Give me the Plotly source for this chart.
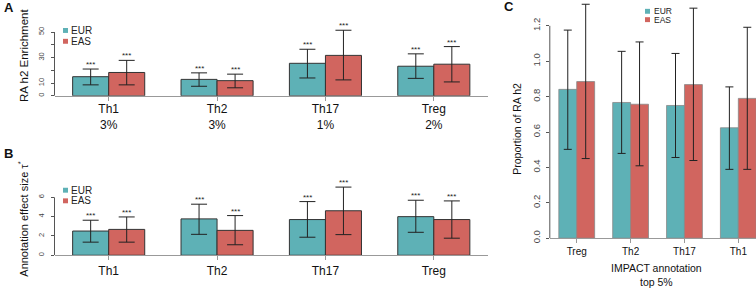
import numpy as np
import plotly.graph_objects as go

# ---------------- data ----------------
cats_AB = ["Th1", "Th2", "Th17", "Treg"]
pct_A = ["3%", "3%", "1%", "2%"]

A_eur = [15.0, 12.9, 25.5, 23.2]
A_eur_lo = [8.6, 7.5, 14.0, 13.7]
A_eur_hi = [21.0, 18.0, 36.5, 32.9]
A_eas = [18.3, 11.9, 31.7, 24.8]
A_eas_lo = [8.6, 6.3, 12.5, 10.9]
A_eas_hi = [27.8, 17.0, 51.4, 38.6]
A_sig_eur = ["***", "***", "***", "***"]
A_sig_eas = ["***", "***", "***", "***"]

B_eur = [2.51, 3.77, 3.70, 4.00]
B_eur_lo = [1.36, 2.17, 1.87, 2.38]
B_eur_hi = [3.63, 5.29, 5.56, 5.70]
B_eas = [2.68, 2.58, 4.61, 3.70]
B_eas_lo = [1.36, 1.09, 2.14, 1.77]
B_eas_hi = [3.97, 4.11, 7.06, 5.63]
B_sig_eur = ["***", "***", "***", "***"]
B_sig_eas = ["***", "***", "***", "***"]

cats_C = ["Treg", "Th2", "Th17", "Th1"]
C_eur = [0.841, 0.767, 0.750, 0.624]
C_eur_lo = [0.502, 0.479, 0.456, 0.389]
C_eur_hi = [1.176, 1.056, 1.044, 0.855]
C_eas = [0.885, 0.757, 0.868, 0.790]
C_eas_lo = [0.450, 0.409, 0.439, 0.389]
C_eas_hi = [1.322, 1.109, 1.300, 1.192]

A_yticks = [0, 10, 30, 50]
A_yminor = [20, 40]
B_yticks = [0, 2, 4, 6]
C_yticks = [0.0, 0.2, 0.4, 0.6, 0.8, 1.0, 1.2]

# ---------------- style ----------------
W, H = 756, 294
TEAL = "#5EB1B6"
RED = "#D1655F"
FONT = "Liberation Sans, Arial, Helvetica, sans-serif"
BARGAP = 0.335


def px(x):
    return x / W


def py(y):
    return 1 - y / H


fig = go.Figure()


def add_pair(eur, eur_lo, eur_hi, eas, eas_lo, eas_hi, cats, xa, ya, lw, lc, capw):
    for name, v, lo, hi, col in [("EUR", eur, eur_lo, eur_hi, TEAL),
                                 ("EAS", eas, eas_lo, eas_hi, RED)]:
        v = np.array(v); lo = np.array(lo); hi = np.array(hi)
        fig.add_trace(go.Bar(
            x=cats, y=v, name=name, xaxis=xa, yaxis=ya, showlegend=False,
            marker=dict(color=col, line=dict(color=lc, width=lw)),
            error_y=dict(type="data", symmetric=False, array=hi - v,
                         arrayminus=v - lo, color="#222", thickness=1, width=capw),
        ))


add_pair(A_eur, A_eur_lo, A_eur_hi, A_eas, A_eas_lo, A_eas_hi, cats_AB, "x", "y", 1, "#333", 8)
add_pair(B_eur, B_eur_lo, B_eur_hi, B_eas, B_eas_lo, B_eas_hi, cats_AB, "x2", "y2", 1, "#333", 8)
add_pair(C_eur, C_eur_lo, C_eur_hi, C_eas, C_eas_lo, C_eas_hi, cats_C, "x3", "y3", 0.8, "#888", 4)

annotations = []
shapes = []

# significance stars
half = (1 - BARGAP) / 4
for xr, yr, hi_e, hi_a, se, sa in [("x", "y", A_eur_hi, A_eas_hi, A_sig_eur, A_sig_eas),
                                   ("x2", "y2", B_eur_hi, B_eas_hi, B_sig_eur, B_sig_eas)]:
    for i in range(len(cats_AB)):
        for off, yv, t in [(-half, hi_e[i], se[i]), (half, hi_a[i], sa[i])]:
            annotations.append(dict(x=i + off, y=yv, xref=xr, yref=yr, text=t,
                                    showarrow=False, yanchor="bottom", yshift=-2,
                                    font=dict(size=8, color="#222", family=FONT)))

# axis lines for y (R style: from first to last tick)
dom_A_left = px(54.5)
dom_C_left = px(549.8)
for xl, yr, top in [(dom_A_left, "y", A_yticks[-1]), (dom_A_left, "y2", B_yticks[-1]),
                    (dom_C_left, "y3", C_yticks[-1])]:
    shapes.append(dict(type="line", xref="paper", yref=yr, x0=xl, x1=xl, y0=0, y1=top,
                       line=dict(color="#555", width=1)))

# legends (manual)
def legend(x_sq, y_eur, y_eas, size, x_txt, fs):
    for yc, col, lab in [(y_eur, TEAL, "EUR"), (y_eas, RED, "EAS")]:
        shapes.append(dict(type="rect", xref="paper", yref="paper",
                           x0=px(x_sq - size / 2), x1=px(x_sq + size / 2),
                           y0=py(yc + size / 2), y1=py(yc - size / 2),
                           fillcolor=col, line=dict(width=0)))
        annotations.append(dict(x=px(x_txt), y=py(yc), xref="paper", yref="paper",
                                text=lab, showarrow=False, xanchor="left", yanchor="middle",
                                font=dict(size=fs, color="#222", family=FONT)))


legend(65.5, 31, 42, 5, 69, 10)
legend(65.5, 193.5, 204.3, 5, 69, 10)
legend(647.5, 11.5, 20, 5, 652, 8.5)

# titles / labels
def text(x, y, t, fs, angle=0, bold=False, xanchor="center"):
    annotations.append(dict(x=px(x), y=py(y), xref="paper", yref="paper", text=t,
                            showarrow=False, textangle=angle, xanchor=xanchor,
                            yanchor="middle",
                            font=dict(size=fs, color="#111", family=FONT,
                                      weight="bold" if bold else "normal")))


text(24, 57, "RA h2 Enrichment", 11.5, -90)
text(23, 223.5, "Annotation effect size τ<sup>*</sup>", 11, -90)
text(517, 131, "Proportion of RA h2", 10.5, -90)
text(656.7, 272.7, "IMPACT annotation", 10.5)
text(656.7, 286.7, "top 5%", 10.5)
text(2, 8, "A", 13, bold=True, xanchor="left")
text(2, 156, "B", 13, bold=True, xanchor="left")
text(502, 7, "C", 13, bold=True, xanchor="left")

xcommon = dict(type="category", showline=True, linecolor="#999", linewidth=1,
               ticks="outside", ticklen=4, tickcolor="#999", showgrid=False,
               zeroline=False, tickfont=dict(family=FONT, color="#111"))
ycommon = dict(showline=False, ticks="outside", ticklen=3, tickcolor="#555",
               showgrid=False, zeroline=False, tickangle=-90,
               tickfont=dict(family=FONT, color="#444"))

fig.update_layout(
    width=W, height=H, margin=dict(l=0, r=0, t=0, b=0),
    paper_bgcolor="white", plot_bgcolor="white",
    barmode="group", bargap=BARGAP, bargroupgap=0,
    showlegend=False,
    xaxis=dict(**xcommon, domain=[dom_A_left, px(488)], anchor="y", range=[-0.5, 3.5],
               tickvals=cats_AB, ticktext=[f"{c}<br>{p}" for c, p in zip(cats_AB, pct_A)],
               ticklabelstandoff=-2),
    yaxis=dict(**ycommon, domain=[py(97.5), py(17)], anchor="x", range=[0, 62],
               tickvals=A_yticks, ticktext=[str(v) for v in A_yticks],
               ticklabelstandoff=4,
               minor=dict(tickvals=A_yminor, ticks="outside", ticklen=3, tickcolor="#555")),
    xaxis2=dict(**xcommon, domain=[dom_A_left, px(488)], anchor="y2", range=[-0.5, 3.5],
                tickvals=cats_AB, ticktext=cats_AB),
    yaxis2=dict(**ycommon, domain=[py(259.7), py(187)], anchor="x2", range=[0, 7.4],
                tickvals=B_yticks, ticktext=[str(v) for v in B_yticks],
                ticklabelstandoff=4),
    xaxis3=dict(**xcommon, domain=[dom_C_left, 1.0], anchor="y3", range=[-0.5, 3.328],
                tickvals=cats_C, ticktext=cats_C),
    yaxis3=dict(**ycommon, domain=[py(242.3), py(1.1)], anchor="x3", range=[0, 1.34],
                tickvals=C_yticks, ticktext=[f"{v:.1f}" for v in C_yticks],
                ticklabelstandoff=2),
    annotations=annotations, shapes=shapes,
)
fig.update_xaxes(tickfont_size=12, selector=dict(anchor="y"))
fig.update_xaxes(tickfont_size=12, selector=dict(anchor="y2"))
fig.update_xaxes(tickfont_size=10, selector=dict(anchor="y3"))
fig.update_yaxes(tickfont_size=7.5, selector=dict(anchor="x"))
fig.update_yaxes(tickfont_size=7.5, selector=dict(anchor="x2"))
fig.update_yaxes(tickfont_size=9.5, selector=dict(anchor="x3"))

fig.write_html("out.html", config={"displayModeBar": False},
               post_script="document.body.style.margin='0';document.body.style.padding='0';")
